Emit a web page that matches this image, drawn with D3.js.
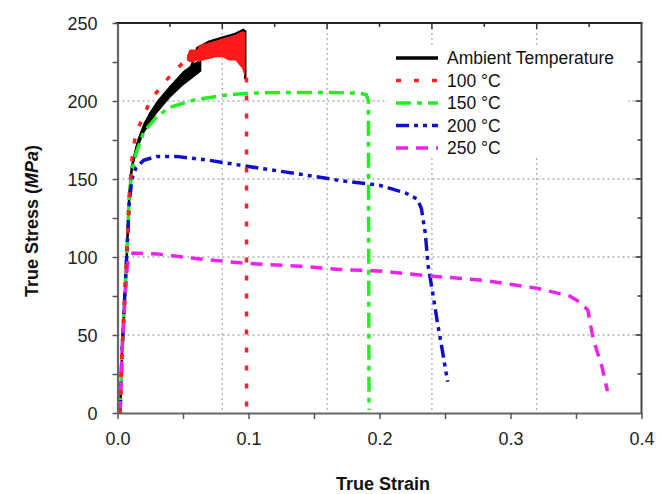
<!DOCTYPE html>
<html>
<head>
<meta charset="utf-8">
<script src="https://cdn.jsdelivr.net/npm/d3@7"></script>
<style>
  body { margin: 0; background: #fff; }
  text { font-family: "Liberation Sans", Arial, sans-serif; }
</style>
</head>
<body>
<div id="vis"></div>
<script>
// strain / stress pairs
var ambient = [[0.002,0],[0.0035,40],[0.007,100],[0.009,140],[0.011,158],[0.015,172],[0.02,183],[0.025,192],
    [0.03,198],[0.038,206],[0.05,216],[0.056,221],[0.061,234],[0.07,238],[0.08,240.5],[0.09,243],[0.096,245.5],
    [0.0975,244.5],[0.0975,214]];
// noisy part of the ambient curve: strain, low, high
var ambientBand = [[0.011,155,160],[0.015,168,175],[0.02,179,186],[0.03,192,200],[0.04,202,210],[0.05,210,219],
    [0.058,215,224],[0.064,219,227]];
var t100 = [[0.002,0],[0.0035,40],[0.007,100],[0.009,140],[0.011,162],[0.0134,177],[0.017,185],[0.025,200],
    [0.032,208],[0.038,214],[0.047,222],[0.054,228]];
// noisy part of the 100 C curve: strain, low, high
var t100Band = [[0.053,226,229],[0.055,225,233],[0.058,225,233],[0.061,226,233],[0.062,225,235.5],[0.065,226,236.5],
    [0.07,227,237.5],[0.075,228,238.5],[0.08,228,240],[0.085,226,241],[0.09,226,242.5],[0.095,221,244.5],[0.0975,215,244]];
var t100Drop = [[0.0985,215],[0.0985,0]];
var t150 = [[0.002,0],[0.0035,40],[0.007,100],[0.009,140],[0.011,155],[0.014,166],[0.02,180],[0.03,190],
    [0.04,196],[0.06,201],[0.08,203.5],[0.1,205],[0.13,205.5],[0.16,205.5],[0.185,205],[0.19,204],[0.1915,200],[0.192,2]];
var t200 = [[0.002,0],[0.0035,40],[0.007,100],[0.009,135],[0.011,150],[0.014,157],[0.02,162],[0.03,164.5],
    [0.045,164.5],[0.07,162],[0.1,158],[0.14,153],[0.17,149],[0.2,146],[0.22,141],[0.229,137],[0.232,131],
    [0.235,115],[0.237,95],[0.241,75],[0.244,59],[0.248,40],[0.252,20]];
var t250 = [[0.002,0],[0.0035,40],[0.0055,70],[0.0075,95],[0.0095,101],[0.012,102.5],[0.03,102],[0.06,99],
    [0.097,96],[0.14,94],[0.17,92],[0.2,91],[0.237,88],[0.28,85],[0.32,80],[0.345,75],[0.353,71],[0.359,66],
    [0.363,48],[0.37,29],[0.374,14]];

var seriesNames = ["Ambient Temperature", "100 \u00B0C", "150 \u00B0C", "200 \u00B0C", "250 \u00B0C"];
var seriesColors = ["#000000", "#ff2020", "#22ee22", "#1010cc", "#ee22ee"];
var seriesDash = [null, "5,13", "15,6,5,6", "13,5,4,5,4,5", "12,8"];

var xTicks = [0, 0.1, 0.2, 0.3, 0.4];
var yTicks = [0, 50, 100, 150, 200, 250];

var margin = {top: 23, right: 20, bottom: 81, left: 117.5},
    width = 641.5 - margin.left,
    height = 413 - margin.top;

var x = d3.scaleLinear().domain([0, 0.4]).range([0, width]);
var y = d3.scaleLinear().domain([0, 250]).range([height, 0]);

var svg = d3.select("#vis").append("svg")
    .attr("width", 662)
    .attr("height", 494)
    .append("g")
    .attr("transform", "translate(" + margin.left + "," + margin.top + ")");

// dotted grid
var grid = svg.append("g").attr("class", "grid")
    .attr("stroke", "#b0b0b0").attr("stroke-width", 1.3).attr("stroke-dasharray", "2,3");
grid.selectAll("line.h").data([50, 100, 150, 200]).enter().append("line")
    .attr("x1", 0).attr("x2", width)
    .attr("y1", function(d) { return y(d); }).attr("y2", function(d) { return y(d); });
grid.selectAll("line.v").data([0.08, 0.16, 0.24, 0.32]).enter().append("line")
    .attr("y1", 0).attr("y2", height)
    .attr("x1", function(d) { return x(d); }).attr("x2", function(d) { return x(d); });

var line = d3.line()
    .x(function(d) { return x(d[0]); })
    .y(function(d) { return y(d[1]); });

var band = d3.area()
    .x(function(d) { return x(d[0]); })
    .y0(function(d) { return y(d[1]); })
    .y1(function(d) { return y(d[2]); });

function drawLine(data, i, w) {
    svg.append("path")
        .datum(data)
        .attr("d", line)
        .attr("fill", "none")
        .attr("stroke", seriesColors[i])
        .attr("stroke-width", w || 3.5)
        .attr("stroke-dasharray", seriesDash[i]);
}

// ambient
svg.append("path").datum(ambientBand).attr("d", band).attr("fill", "#000");
drawLine(ambient, 0, 2.5);
// 150, 200, 250
drawLine(t150, 2);
drawLine(t200, 3);
drawLine(t250, 4);
// 100
drawLine(t100, 1);
svg.append("path").datum(t100Band).attr("d", band).attr("fill", "#ff1a1a");
drawLine(t100Drop, 1);

// frame: top and right
svg.append("line").attr("x1", -2).attr("x2", width + 1).attr("y1", 0).attr("y2", 0)
    .attr("stroke", "#222").attr("stroke-width", 2);
svg.append("line").attr("x1", width).attr("x2", width).attr("y1", 0).attr("y2", height + 1)
    .attr("stroke", "#444").attr("stroke-width", 2);

// top ticks every 0.04, right ticks every 25 (inward)
svg.selectAll("line.tt").data(d3.range(1, 10)).enter().append("line")
    .attr("x1", function(d) { return x(d * 0.04); }).attr("x2", function(d) { return x(d * 0.04); })
    .attr("y1", 0).attr("y2", function(d) { return d % 2 == 0 ? 6 : 4; })
    .attr("stroke", "#333").attr("stroke-width", 1.5);
svg.selectAll("line.rt").data(d3.range(1, 10)).enter().append("line")
    .attr("y1", function(d) { return y(d * 25); }).attr("y2", function(d) { return y(d * 25); })
    .attr("x1", width).attr("x2", function(d) { return d % 2 == 0 ? width - 6 : width - 4; })
    .attr("stroke", "#333").attr("stroke-width", 1.5);

// axes
var xAxis = d3.axisBottom(x).tickValues(d3.range(0, 9).map(function(i) { return i * 0.05; }))
    .tickSize(6).tickSizeOuter(0)
    .tickFormat(function(d) { return xTicks.indexOf(+d.toFixed(2)) >= 0 ? d3.format(".1f")(d) : ""; });
var yAxis = d3.axisLeft(y).tickValues(d3.range(0, 11).map(function(i) { return i * 25; }))
    .tickSize(5).tickSizeOuter(0)
    .tickFormat(function(d) { return yTicks.indexOf(d) >= 0 ? d : ""; });

var gx = svg.append("g").attr("transform", "translate(0," + height + ")").call(xAxis);
var gy = svg.append("g").call(yAxis);
[gx, gy].forEach(function(g) {
    g.select(".domain").attr("stroke", "#666").attr("stroke-width", 2.2);
    g.selectAll(".tick line").attr("stroke", "#555").attr("stroke-width", 1.5);
    g.selectAll(".tick text").style("font-size", "18px").attr("fill", "#222")
        .style("font-family", "'Liberation Sans', Arial, sans-serif");
});
gx.selectAll(".tick text").attr("y", 19).attr("dy", "0.71em");
gy.selectAll(".tick text").attr("x", -20).attr("dy", "0.34em");

// axis titles
svg.append("text")
    .attr("x", 383 - margin.left)
    .attr("y", 490 - margin.top)
    .attr("text-anchor", "middle")
    .style("font-size", "18px").style("font-weight", "bold").attr("fill", "#111")
    .text("True Strain");

var yt = svg.append("text")
    .attr("transform", "translate(" + (38 - margin.left) + "," + (221 - margin.top) + ") rotate(-90)")
    .attr("text-anchor", "middle")
    .style("font-size", "18px").style("font-weight", "bold").attr("fill", "#111");
yt.append("tspan").text("True Stress (");
yt.append("tspan").style("font-style", "italic").text("MPa");
yt.append("tspan").text(")");

// legend
var legend = svg.append("g").attr("transform", "translate(" + (396 - margin.left) + "," + (58 - margin.top) + ")");
legend.append("rect").attr("x", -8).attr("y", -12).attr("width", 240).attr("height", 112).attr("fill", "#fff");
var item = legend.selectAll(".legend").data(seriesNames).enter().append("g")
    .attr("class", "legend")
    .attr("transform", function(d, i) { return "translate(0," + (i * 22.5) + ")"; });
item.append("line")
    .attr("x1", 0).attr("x2", 42).attr("y1", 0).attr("y2", 0)
    .attr("stroke", function(d, i) { return seriesColors[i]; })
    .attr("stroke-width", 3.5)
    .attr("stroke-dasharray", function(d, i) { return seriesDash[i]; });
item.append("text")
    .attr("x", 51).attr("dy", "0.35em")
    .style("font-size", "17.5px").attr("fill", "#111")
    .text(function(d) { return d; });
</script>
</body>
</html>
